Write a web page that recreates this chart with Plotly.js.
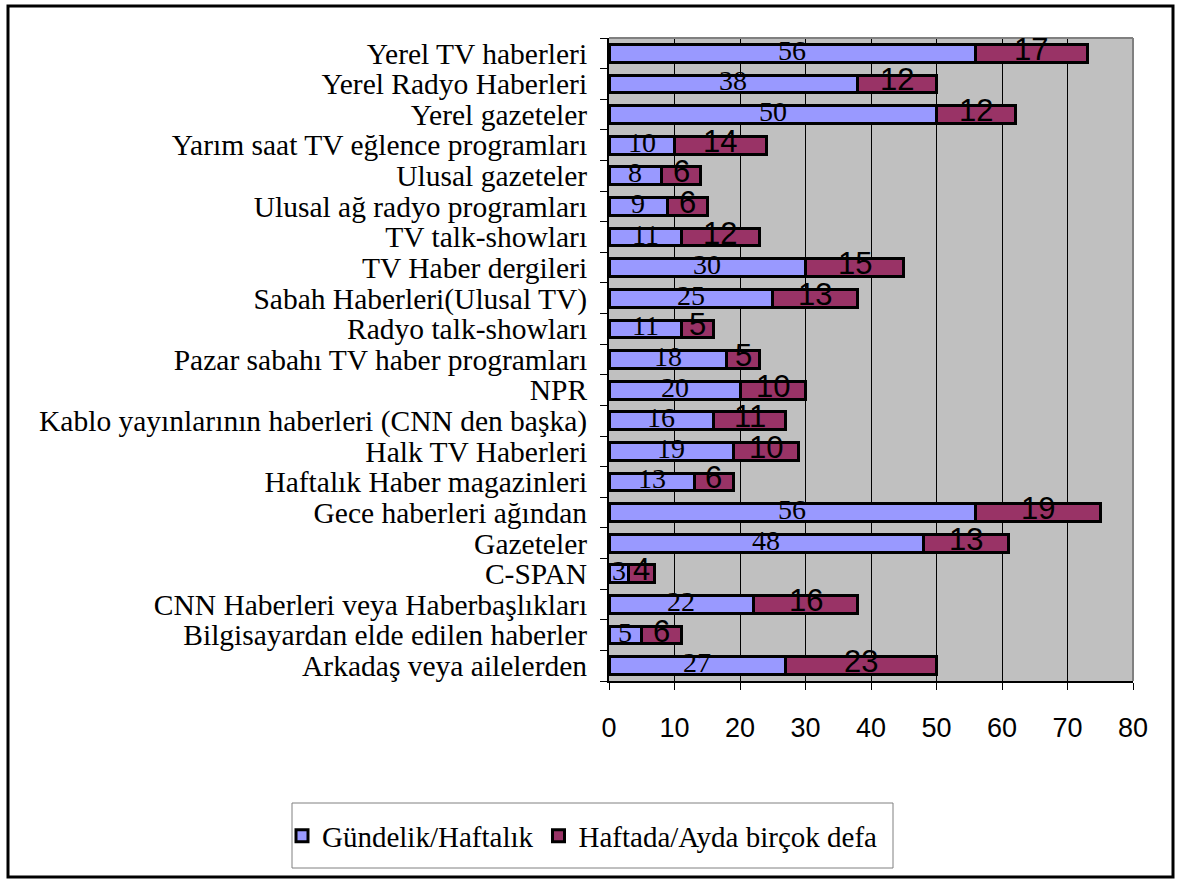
<!DOCTYPE html>
<html>
<head>
<meta charset="utf-8">
<script src="https://cdn.plot.ly/plotly-3.0.1.min.js"></script>
<style>
html,body{margin:0;padding:0;background:#fff;}
#chart{width:1181px;height:882px;}
</style>
</head>
<body>
<div id="chart"></div>
<script>
// Categories listed bottom to top
const categories = [
  "Arkadaş veya ailelerden",
  "Bilgisayardan elde edilen haberler",
  "CNN Haberleri veya Haberbaşlıkları",
  "C-SPAN",
  "Gazeteler",
  "Gece haberleri ağından",
  "Haftalık Haber magazinleri",
  "Halk TV Haberleri",
  "Kablo yayınlarının haberleri (CNN den başka)",
  "NPR",
  "Pazar sabahı TV haber programları",
  "Radyo talk-showları",
  "Sabah Haberleri(Ulusal TV)",
  "TV Haber dergileri",
  "TV talk-showları",
  "Ulusal ağ radyo programları",
  "Ulusal gazeteler",
  "Yarım saat TV eğlence programları",
  "Yerel gazeteler",
  "Yerel Radyo Haberleri",
  "Yerel TV haberleri"
];
const gundelik = [27, 5, 22, 3, 48, 56, 13, 19, 16, 20, 18, 11, 25, 30, 11, 9, 8, 10, 50, 38, 56];
const haftada  = [23, 6, 16, 4, 13, 19, 6, 10, 11, 10, 5, 5, 13, 15, 12, 6, 6, 14, 12, 12, 17];
const seriesNames = ["Gündelik/Haftalık", "Haftada/Ayda birçok defa"];
const xTicks = [0, 10, 20, 30, 40, 50, 60, 70, 80];

const W = 1181, H = 882;
const L = 609, R = 1133, T = 38, B = 681;
const pw = R - L, ph = B - T;
const px = v => (v - L) / pw;
const py = v => (B - v) / ph;

const traces = [
  {type:"bar", orientation:"h", y:categories, x:gundelik, name:seriesNames[0],
   marker:{color:"#9999FF", line:{color:"#000", width:3}}},
  {type:"bar", orientation:"h", y:categories, x:haftada, name:seriesNames[1],
   marker:{color:"#993366", line:{color:"#000", width:3}}}
];

const annotations = [];
categories.forEach((c, i) => {
  annotations.push({x: gundelik[i] / 2, y: c, xref:"x", yref:"y", text:String(gundelik[i]),
    showarrow:false, yshift:3,
    font:{family:"Liberation Serif, Times New Roman, serif", size:28, color:"#000"}});
  annotations.push({x: gundelik[i] + haftada[i] / 2, y: c, xref:"x", yref:"y", text:String(haftada[i]),
    showarrow:false, yshift:4,
    font:{family:"Liberation Sans, Arial, sans-serif", size:31, color:"#000"}});
});

const shapes = [
  {type:"rect", xref:"paper", yref:"paper", x0:px(8), x1:px(1173), y0:py(877), y1:py(6),
   line:{color:"#000", width:3}, layer:"above"},
  {type:"line", xref:"paper", yref:"paper", x0:0, x1:1, y0:1, y1:1, line:{color:"#808080", width:2}, layer:"above"},
  {type:"line", xref:"paper", yref:"paper", x0:1, x1:1, y0:0, y1:1, line:{color:"#808080", width:2}, layer:"above"},
  {type:"rect", xref:"paper", yref:"paper", x0:px(292), x1:px(893), y0:py(868), y1:py(803),
   line:{color:"#808080", width:1}, fillcolor:"rgba(0,0,0,0)", layer:"above"}
];

const layout = {
  width: W, height: H,
  margin: {l: L, r: W - R, t: T, b: H - B, pad: 0},
  paper_bgcolor: "#fff",
  plot_bgcolor: "#C0C0C0",
  barmode: "stack",
  bargap: 0.42,
  showlegend: true,
  legend: {orientation:"h", x: px(282), xanchor:"left", y: py(836), yanchor:"middle",
    bgcolor:"rgba(0,0,0,0)", borderwidth:0,
    font:{family:"Liberation Serif, Times New Roman, serif", size:29, color:"#000"},
    itemwidth:30, traceorder:"normal"},
  xaxis: {range:[0,80], tickvals:xTicks, ticktext:xTicks.map(String),
    showgrid:true, gridcolor:"#000", gridwidth:1,
    showline:true, linecolor:"#000", linewidth:2,
    ticks:"outside", ticklen:7, tickcolor:"#000", tickwidth:1,
    ticklabelstandoff: 15,
    tickfont:{family:"Liberation Sans, Arial, sans-serif", size:27, color:"#000"},
    zeroline:false, fixedrange:true},
  yaxis: {type:"category", categoryorder:"array", categoryarray:categories,
    range:[-0.5, categories.length - 0.5], autorange:false,
    tickmode:"linear", tick0:0, dtick:1,
    showgrid:false, showline:true, linecolor:"#000", linewidth:2,
    ticks:"outside", ticklen:7, tickcolor:"#000", tickwidth:1, tickson:"boundaries",
    ticklabelstandoff: 14,
    tickfont:{family:"Liberation Serif, Times New Roman, serif", size:29.5, color:"#000"},
    fixedrange:true},
  annotations: annotations,
  shapes: shapes
};

Plotly.newPlot("chart", traces, layout, {displayModeBar:false, staticPlot:true});
</script>
</body>
</html>
